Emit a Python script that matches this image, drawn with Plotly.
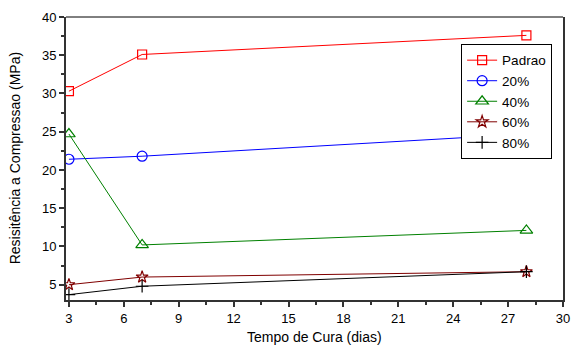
import plotly.graph_objects as go

days = [3, 7, 28]
padrao = [30.3, 35.1, 37.6]
p20 = [21.4, 21.8, 24.7]
p40 = [24.7, 10.2, 12.1]
p60 = [5.0, 6.0, 6.7]
p80 = [3.7, 4.8, 6.7]

series = [
    ("Padrao", padrao, "#FF0000", "square-open", 9),
    ("20%", p20, "#0000FF", "circle-open", 10),
    ("40%", p40, "#008000", "triangle-up-open", 11),
    ("60%", p60, "#800000", "star-open", 9),
    ("80%", p80, "#000000", "cross-thin-open", 9),
]

fig = go.Figure()
for name, vals, col, sym, sz in series:
    fig.add_trace(go.Scatter(
        x=days, y=vals, name=name, mode="lines+markers",
        line=dict(color=col, width=1),
        marker=dict(symbol=sym, size=sz, color=col, line=dict(color=col, width=1.2)),
    ))

font_family = "Liberation Sans"
fig.update_layout(
    width=571, height=345,
    margin=dict(l=66, r=8, t=17, b=45, autoexpand=False),
    paper_bgcolor="white", plot_bgcolor="white",
    font=dict(family=font_family, size=13, color="#000000"),
    showlegend=True,
    legend=dict(
        x=0.795, y=0.905, xanchor="left", yanchor="top",
        bgcolor="white", bordercolor="#000000", borderwidth=1,
        font=dict(size=13.5), tracegroupgap=0, itemwidth=30,
    ),
    xaxis=dict(
        range=[2.84, 30], tick0=3, dtick=3, showgrid=False, zeroline=False,
        ticks="outside", ticklen=5, tickwidth=1.5, tickcolor="#333333",
        showline=True, linewidth=2, linecolor="#333333", mirror=False,
        minor=dict(ticks="outside", ticklen=3, tick0=3, dtick=1.5, tickcolor="#333333", tickwidth=1.5),
        automargin=False,
        tickfont=dict(size=13),
    ),
    yaxis=dict(
        range=[3, 40], tick0=0, dtick=5, showgrid=False, zeroline=False,
        ticks="outside", ticklen=5, tickwidth=1.5, tickcolor="#333333",
        showline=True, linewidth=2, linecolor="#333333", mirror=True,
        minor=dict(ticks="outside", ticklen=3, dtick=2.5, tickcolor="#333333", tickwidth=1.5),
        automargin=False,
        tickfont=dict(size=13),
    ),
    shapes=[dict(type="line", xref="paper", yref="paper", x0=0, x1=1, y0=1, y1=1,
                 line=dict(color="#000000", width=1))],
    annotations=[
        dict(text="Tempo de Cura (dias)", xref="paper", yref="paper", x=0.501, y=-0.131,
             xanchor="center", yanchor="middle", showarrow=False, font=dict(size=14)),
        dict(text="Resisitência a Compressao (MPa)", xref="paper", yref="paper", x=-0.103, y=0.5,
             xanchor="center", yanchor="middle", showarrow=False, textangle=-90, font=dict(size=14)),
    ],
)

fig.write_html(
    "out.html",
    config={"displayModeBar": False},
    post_script="document.body.style.margin='0';document.body.style.overflow='hidden';",
)
